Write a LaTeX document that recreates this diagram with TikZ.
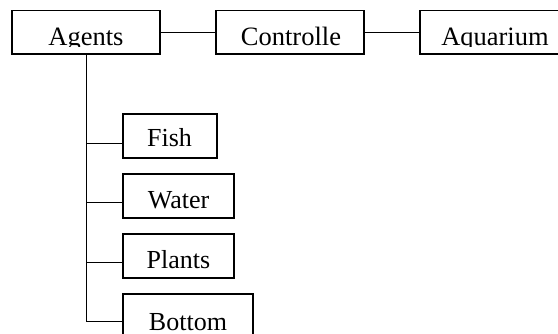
\documentclass[tikz,border=0pt]{standalone}
\usepackage{fontspec}
\setmainfont{Liberation Serif}
\begin{document}
\begin{tikzpicture}[x=1pt, y=-1pt,
  box/.style={draw, line width=1.5pt, inner sep=0pt, minimum height=44pt},
  toplabel/.style={anchor=base, inner sep=0pt, font=\fontsize{26.5}{30}\selectfont},
  sublabel/.style={anchor=base, inner sep=0pt, font=\fontsize{26}{30}\selectfont},
  link/.style={line width=1pt}]
  \clip (0,0) rectangle (558,333);

  % top row
  \node[box, minimum width=148pt, minimum height=43.5pt] (agents) at (86,32.25) {};
  \node[box, minimum width=148pt, minimum height=43.5pt] (controlle) at (290,32.25) {};
  \node[box, minimum width=148pt, minimum height=43.5pt] (aquarium) at (494,32.25) {};

  % labels of the top row are cut just below their baseline
  \begin{scope}
    \clip (0,0) rectangle (558,46);
    \node[toplabel] (agents-t) at (86,45.5) {Agents};
    \node[toplabel] (controlle-t) at (291,45.5) {Controlle};
    \node[toplabel] (aquarium-t) at (495,45.5) {Aquarium};
  \end{scope}

  \draw[link] (agents.east) -- (controlle.west);
  \draw[link] (controlle.east) -- (aquarium.west);

  % agent boxes
  \node[box, minimum width=94pt] (fish) at (170,136) {};
  \node[box, minimum width=111pt] (water) at (178.5,196) {};
  \node[box, minimum width=111pt] (plants) at (178.5,256) {};
  \node[box, minimum width=130pt] (bottom) at (188,316) {};

  \node[sublabel] (fish-t) at (169.5,146) {Fish};
  \node[sublabel] (water-t) at (178.5,208) {Water};
  \node[sublabel] (plants-t) at (178.5,268) {Plants};
  \node[sublabel] (bottom-t) at (188,330.5) {Bottom};

  % tree connectors
  \coordinate (j1) at (86,143);
  \coordinate (j2) at (86,202);
  \coordinate (j3) at (86,262);
  \coordinate (j4) at (86,321);
  \draw[link] (agents.south) -- (j4) -- (j4 -| bottom.west);
  \draw[link] (j1) -- (j1 -| fish.west);
  \draw[link] (j2) -- (j2 -| water.west);
  \draw[link] (j3) -- (j3 -| plants.west);
\end{tikzpicture}
\end{document}
